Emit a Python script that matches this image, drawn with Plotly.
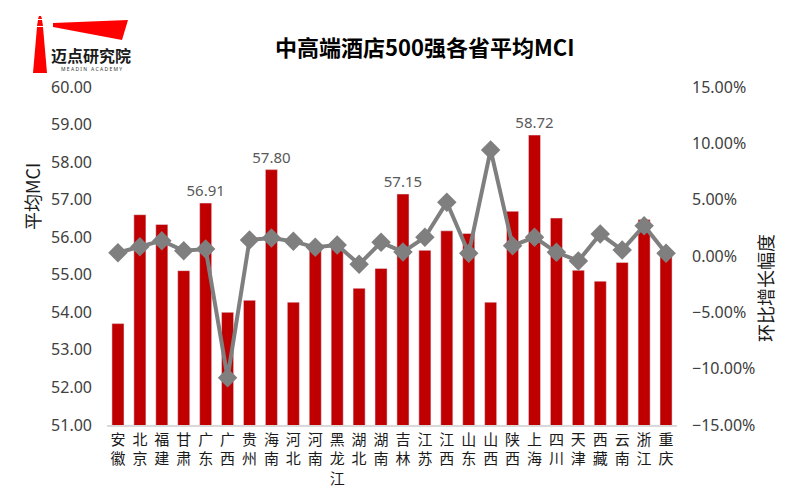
import plotly.graph_objects as go

provinces = ["安徽","北京","福建","甘肃","广东","广西","贵州","海南","河北","河南","黑龙江","湖北","湖南","吉林",
             "江苏","江西","山东","山西","陕西","上海","四川","天津","西藏","云南","浙江","重庆"]
mci = [53.70,56.60,56.34,55.11,56.91,54.00,54.32,57.80,54.27,55.68,55.72,54.64,55.17,57.15,
       55.65,56.17,56.10,54.27,56.69,58.72,56.51,55.12,54.83,55.33,56.47,55.65]
growth = [0.29,0.83,1.36,0.47,0.62,-10.8,1.42,1.60,1.30,0.77,0.98,-0.74,1.21,0.36,
          1.66,4.77,0.24,9.41,0.92,1.66,0.33,-0.44,1.95,0.53,2.69,0.24]
labeled = ["广东","海南","吉林","上海"]
left_ticks = [51, 52, 53, 54, 55, 56, 57, 58, 59, 60]

tick_text = ["<br>".join(list(p)) for p in provinces]
bar_text = [f"{v:.2f}" if p in labeled else "" for p, v in zip(provinces, mci)]

FONT = "Noto Sans, Noto Sans CJK SC, sans-serif"
CJK = "Noto Sans CJK SC"
GREY = "#595959"
DARK = "#404040"

ML, MR, MT, MB = 107, 123, 87, 68
W, H = 800, 493

fig = go.Figure()
fig.add_trace(go.Bar(
    x=provinces, y=mci, marker_color="#C00000", width=0.55,
    text=bar_text, textposition="outside", cliponaxis=False, constraintext="none",
    textfont=dict(color=GREY, size=15, family=FONT),
    showlegend=False,
))
fig.add_trace(go.Scatter(
    x=provinces, y=[g / 100 for g in growth], yaxis="y2", mode="lines+markers",
    line=dict(color="#7F7F7F", width=4),
    marker=dict(symbol="diamond", size=15, color="#7F7F7F"),
    showlegend=False, cliponaxis=False,
))

fig.update_layout(
    width=W, height=H,
    margin=dict(l=ML, r=MR, t=MT, b=MB, autoexpand=False),
    paper_bgcolor="white", plot_bgcolor="white",
    font=dict(family=FONT, color=GREY),
    title=dict(text="<b>中高端酒店500强各省平均MCI</b>", x=0.531, xanchor="center", y=0.903, yanchor="middle",
               font=dict(size=22, color="#000000", family=CJK)),
    xaxis=dict(tickmode="array", tickvals=provinces, ticktext=tick_text, automargin=False,
               range=[-0.5, len(provinces) - 0.5], autorange=False,
               tickfont=dict(size=15, color="#1a1a1a", family=CJK),
               showline=True, linecolor="#D9D9D9", linewidth=1.5, ticks="", showgrid=False),
    yaxis=dict(range=[51, 60], tickmode="array", tickvals=left_ticks, tickformat=".2f", automargin=False,
               tickfont=dict(size=16, color=DARK), showgrid=False, zeroline=False, ticks="",
               ticklabelstandoff=14),
    yaxis2=dict(range=[-0.15, 0.15], dtick=0.05, tickformat=".2%", overlaying="y", side="right", automargin=False,
                tickfont=dict(size=16, color=DARK), showgrid=False, zeroline=False, ticks="",
                ticklabelstandoff=14),
)

def px(x, y):
    return ((x - ML) / (W - ML - MR), (H - MB - y) / (H - MT - MB))

a, b = px(32, 197)
fig.add_annotation(text="平均MCI", xref="paper", yref="paper", x=a, y=b, textangle=-90, showarrow=False,
                   xanchor="center", yanchor="middle",
                   font=dict(size=18, color="#1a1a1a", family=CJK))
a, b = px(765, 288)
fig.add_annotation(text="环比增长幅度", xref="paper", yref="paper", x=a, y=b, textangle=-90, showarrow=False,
                   xanchor="center", yanchor="middle",
                   font=dict(size=18, color="#1a1a1a", family=CJK))

# logo
def path(pts):
    s = ""
    for i, (x, y) in enumerate(pts):
        a, b = px(x, y)
        s += ("M " if i == 0 else " L ") + f"{a:.5f},{b:.5f}"
    return s + " Z"
fig.add_shape(type="path", xref="paper", yref="paper", path=path([(53, 23), (128, 20), (122, 40), (53, 27)]),
              fillcolor="#FF0000", line_width=0)
fig.add_shape(type="path", xref="paper", yref="paper", path=path([(37, 27), (43, 27), (47, 73), (33, 73)]),
              fillcolor="#FF0000", line_width=0)
fig.add_shape(type="path", xref="paper", yref="paper", path=path([(38, 20), (42, 20), (43, 26), (37, 26)]),
              fillcolor="#FF0000", line_width=0)
fig.add_shape(type="path", xref="paper", yref="paper", path=path([(39, 16), (41, 16), (42, 19), (38, 19)]),
              fillcolor="#FF0000", line_width=0)
a, b = px(91, 55)
fig.add_annotation(text="<b>迈点研究院</b>", xref="paper", yref="paper", x=a, y=b, showarrow=False,
                   xanchor="center", yanchor="middle",
                   font=dict(size=16, color="#1a1a1a", family=CJK))
a, b = px(91, 69)
fig.add_annotation(text="M E A D I N   A C A D E M Y", xref="paper", yref="paper", x=a, y=b, showarrow=False,
                   xanchor="center", yanchor="middle",
                   font=dict(size=5, color="#333333", family="Noto Sans"))

fig.write_html("out.html")
